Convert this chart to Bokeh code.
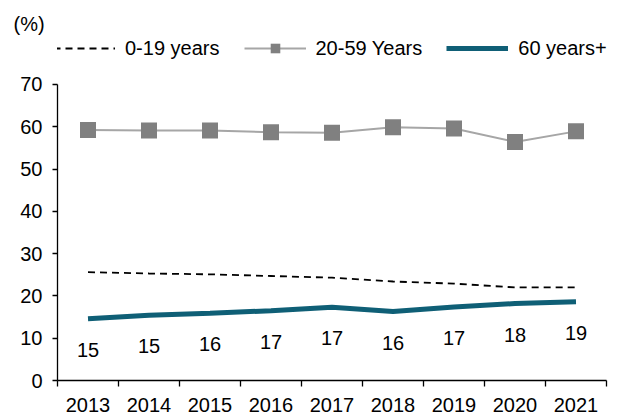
from bokeh.plotting import figure
from bokeh.models import (ColumnDataSource, Range1d, FixedTicker, Legend, LegendItem,
                          LabelSet, LinearAxis)
from bokeh.core.properties import value
from bokeh.embed import file_html
from bokeh.resources import INLINE

years = ["2013", "2014", "2015", "2016", "2017", "2018", "2019", "2020", "2021"]
age_0_19 = [25.6, 25.3, 25.1, 24.7, 24.3, 23.4, 22.9, 22.0, 22.0]
age_20_59 = [59.2, 59.1, 59.1, 58.7, 58.6, 59.9, 59.6, 56.4, 58.9]
age_60_plus = [14.6, 15.4, 15.9, 16.5, 17.3, 16.3, 17.4, 18.2, 18.6]
labels_60_plus = ["15", "15", "16", "17", "17", "16", "17", "18", "19"]
y_ticks = [0, 10, 20, 30, 40, 50, 60, 70]

FONT = "Liberation Sans"
FS = "20px"
TEAL = "#0f5f76"

n = len(years)
xs = [i + 0.5 for i in range(n)]
src = ColumnDataSource(dict(x=xs, a=age_0_19, b=age_20_59, c=age_60_plus, lab=labels_60_plus))

p = figure(width=621, height=418, output_backend="svg", toolbar_location=None,
           x_range=Range1d(0, n * 558 / 549), y_range=Range1d(0, 81.8),
           min_border_left=57, min_border_right=6, min_border_top=34, min_border_bottom=38,
           x_axis_type=None, y_axis_type=None)
p.outline_line_color = None
p.xgrid.grid_line_color = None
p.ygrid.grid_line_color = None
p.background_fill_color = "white"
p.border_fill_color = "white"

p.title.text = "(%)"
p.title.align = "left"
p.title.offset = -44
p.title.standoff = 0
p.title.text_font = FONT
p.title.text_font_size = FS
p.title.text_font_style = "normal"
p.title.text_color = "black"

# axes
yaxis = LinearAxis(ticker=FixedTicker(ticks=y_ticks), bounds=(0, 70))
yaxis.axis_line_color = "black"
yaxis.axis_line_width = 1.3
yaxis.major_tick_line_color = "black"
yaxis.major_tick_line_width = 1.3
yaxis.major_tick_in = 0
yaxis.major_tick_out = 5
yaxis.minor_tick_line_color = None
yaxis.major_label_standoff = 10
yaxis.major_label_text_font = FONT
yaxis.major_label_text_font_size = FS
yaxis.major_label_text_color = "black"
p.add_layout(yaxis, "left")

xaxis = LinearAxis(ticker=FixedTicker(ticks=xs, minor_ticks=list(range(n + 1))), bounds=(0, n))
xaxis.major_label_overrides = {x: y for x, y in zip(xs, years)}
xaxis.axis_line_color = "black"
xaxis.axis_line_width = 1.3
xaxis.major_tick_line_color = None
xaxis.major_tick_in = 0
xaxis.major_tick_out = 6
xaxis.minor_tick_line_color = "black"
xaxis.minor_tick_line_width = 1.3
xaxis.minor_tick_in = 0
xaxis.minor_tick_out = 6
xaxis.major_label_standoff = 11
xaxis.major_label_text_font = FONT
xaxis.major_label_text_font_size = FS
xaxis.major_label_text_color = "black"
p.add_layout(xaxis, "below")

# series
r1 = p.line("x", "a", source=src, line_color="black", line_width=1.8, line_dash="7 5")
r2l = p.line("x", "b", source=src, line_color="#a6a6a6", line_width=2)
r2m = p.scatter("x", "b", source=src, marker="square", size=16,
                fill_color="#808080", line_color=None)
r3 = p.line("x", "c", source=src, line_color=TEAL, line_width=5)

labels = LabelSet(x="x", y="c", text="lab", source=src, y_offset=-31,
                  text_align="center", text_baseline="middle",
                  text_font=value(FONT), text_font_size=value(FS), text_color="black")
p.add_layout(labels)

legend = Legend(items=[LegendItem(label="0-19 years", renderers=[r1]),
                       LegendItem(label="20-59 Years", renderers=[r2l, r2m]),
                       LegendItem(label="60 years+", renderers=[r3])],
                orientation="horizontal", location=(-4, 320),
                glyph_width=62, glyph_height=24, label_standoff=10, spacing=24,
                padding=0, margin=0, border_line_color=None, background_fill_alpha=0,
                label_text_font=FONT, label_text_font_size=FS, label_text_color="black")
p.add_layout(legend)

open("out.html", "w").write(file_html(p, INLINE))
